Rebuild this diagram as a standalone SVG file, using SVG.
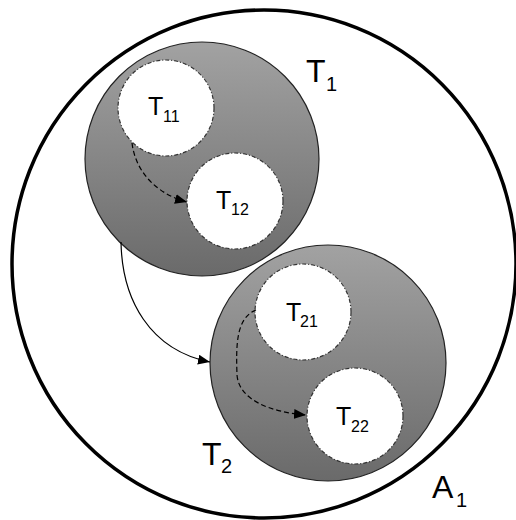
<svg xmlns="http://www.w3.org/2000/svg" width="516" height="520" viewBox="0 0 516 520">
<defs>
<linearGradient id="g" x1="0" y1="0" x2="0" y2="1">
<stop offset="0" stop-color="#a2a2a2"/>
<stop offset="1" stop-color="#6a6a6a"/>
</linearGradient>
<marker id="ah" viewBox="0 0 12 10" refX="12" refY="5" markerWidth="12" markerHeight="10" markerUnits="userSpaceOnUse" orient="auto">
<path d="M0,0 L12,5 L0,10 Z" fill="#000"/>
</marker>
<style>
.outer{fill:#fff;stroke:#000;stroke-width:3.5}
.task{fill:url(#g);stroke:#222;stroke-width:1.2}
.sub{fill:#fff;stroke:#333;stroke-width:1.2;stroke-dasharray:4 2 1 2}
.lbl{font-family:"Liberation Sans",Arial,sans-serif;fill:#000}
.edge{fill:none;stroke:#000;stroke-width:1.2}
.dash{stroke-dasharray:5 3}
</style>
</defs>
<rect width="516" height="520" fill="#fff"/>
<g id="A1">
<ellipse class="outer" cx="264" cy="264" rx="252" ry="254"/>
<text class="lbl" x="432" y="498" font-size="32">A<tspan x="456" y="507" font-size="20">1</tspan></text>
</g>
<g id="T1">
<circle class="task" cx="202" cy="159" r="117"/>
<text class="lbl" x="306" y="82" font-size="32">T<tspan x="326" y="91" font-size="20">1</tspan></text>
</g>
<g id="T2">
<circle class="task" cx="328" cy="363" r="118"/>
<text class="lbl" x="202" y="465" font-size="32">T<tspan x="221" y="473" font-size="20">2</tspan></text>
</g>
<g id="T11">
<circle class="sub" cx="166" cy="108" r="48"/>
<text class="lbl" x="148" y="115" font-size="25">T<tspan x="163" y="122" font-size="16">11</tspan></text>
</g>
<g id="T12">
<circle class="sub" cx="235" cy="201" r="48"/>
<text class="lbl" x="216" y="209" font-size="25">T<tspan x="231" y="215" font-size="16">12</tspan></text>
</g>
<g id="T21">
<circle class="sub" cx="303" cy="312" r="48"/>
<text class="lbl" x="286" y="321" font-size="25">T<tspan x="300" y="327" font-size="16">21</tspan></text>
</g>
<g id="T22">
<circle class="sub" cx="355" cy="416" r="48"/>
<text class="lbl" x="336" y="425" font-size="25">T<tspan x="351" y="432" font-size="16">22</tspan></text>
</g>
<g id="connectors">
<path class="edge" d="M121,242 C122,300 150,350 210,362" marker-end="url(#ah)"/>
<path class="edge dash" d="M132,143 C136,175 160,195 187,202" marker-end="url(#ah)"/>
<path class="edge dash" d="M256,310 C236,318 236,345 237,375 C239,400 270,412 306,415" marker-end="url(#ah)"/>
</g>
</svg>
